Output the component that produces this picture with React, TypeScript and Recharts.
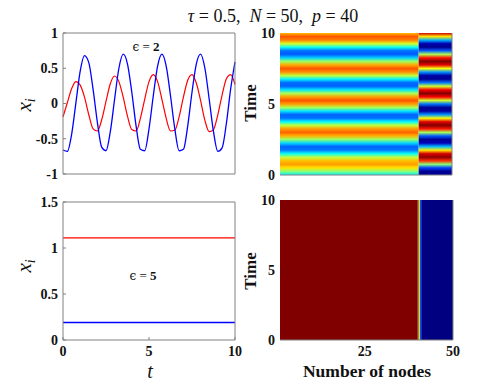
import React from 'react';
import {
  LineChart,
  Line,
  ComposedChart,
  Scatter,
  ReferenceArea,
  XAxis,
  YAxis,
} from 'recharts';

// time samples for the epsilon = 2 run
const times = [
  0, 0.25, 0.5, 0.75, 1, 1.25, 1.5, 1.75, 2, 2.25, 2.5, 2.75, 3, 3.25, 3.5, 3.75, 4, 4.25, 4.5, 4.75,
  5, 5.25, 5.5, 5.75, 6, 6.25, 6.5, 6.75, 7, 7.25, 7.5, 7.75, 8, 8.25, 8.5, 8.75, 9, 9.25, 9.5, 9.75, 10,
];
// node in the first block (nodes 1-40)
const eps2Red = [
  -0.19, 0.01, 0.21, 0.31, 0.26, 0.09, -0.16, -0.36, -0.39, -0.23, 0.03, 0.28, 0.39, 0.31, 0.09, -0.18,
  -0.37, -0.39, -0.21, 0.06, 0.31, 0.41, 0.31, 0.06, -0.21, -0.39, -0.38, -0.19, 0.09, 0.33, 0.41, 0.29,
  0.04, -0.24, -0.4, -0.37, -0.16, 0.12, 0.35, 0.41, 0.27,
];
// node in the second block (nodes 41-50)
const eps2Blue = [
  -0.66, -0.68, -0.44, 0.01, 0.46, 0.68, 0.58, 0.2, -0.27, -0.62, -0.67, -0.4, 0.06, 0.5, 0.7, 0.56,
  0.16, -0.32, -0.65, -0.67, -0.36, 0.11, 0.53, 0.7, 0.53, 0.11, -0.36, -0.67, -0.65, -0.32, 0.16, 0.56,
  0.7, 0.5, 0.06, -0.4, -0.68, -0.63, -0.28, 0.21, 0.59,
];

// epsilon = 5: both blocks sit at fixed points
const eps5Times = [0, 10];
const eps5Red = [1.11, 1.11];
const eps5Blue = [0.19, 0.19];

// node blocks
const blockFirst = [1, 41];
const blockLast = [40, 50];

const tTicks = [0, 5, 10];
const xTicksTop = [-1, -0.5, 0, 0.5, 1];
const xTicksBottom = [0, 0.5, 1, 1.5];
const timeTicks = [0, 5, 10];
const nodeTicks = [25, 50];

const eps2Rows = times.map((t, i) => ({ t, red: eps2Red[i], blue: eps2Blue[i] }));
const eps5Rows = eps5Times.map((t, i) => ({ t, red: eps5Red[i], blue: eps5Blue[i] }));
const nodeAnchors = [
  { node: blockFirst[0], time: 0 },
  { node: blockLast[1], time: 10 },
];

const SERIF = '"Liberation Serif", "DejaVu Serif", "Times New Roman", serif';
const GRAY = '#808080';
const tickStyle = { fill: '#111', fontSize: 14, fontWeight: 700, fontFamily: SERIF };

function jet(n: number) {
  const c = (v: number) => Math.round(255 * Math.max(0, Math.min(1, v)));
  return `rgb(${c(1.5 - Math.abs(4 * n - 3))},${c(1.5 - Math.abs(4 * n - 2))},${c(1.5 - Math.abs(4 * n - 1))})`;
}

function TimeGradient({ id, values, min, max }: { id: string; values: number[]; min: number; max: number }) {
  return (
    <linearGradient id={id} x1="0" y1="1" x2="0" y2="0">
      {times.map((t, i) => (
        <stop key={i} offset={t / 10} stopColor={jet((values[i] - min) / (max - min))} />
      ))}
    </linearGradient>
  );
}

const fmt = (v: number) => String(v);

function LinePanel({ rows, yDomain, yTicks, top, height, margin, showX, curve }: any) {
  return (
    <div style={{ position: 'absolute', left: 0, top }}>
      <LineChart width={245} height={height} data={rows} margin={margin}>
        <XAxis
          dataKey="t"
          type="number"
          domain={[0, 10]}
          ticks={tTicks}
          tick={showX ? tickStyle : false}
          tickFormatter={fmt}
          tickSize={-3}
          tickMargin={9}
          height={1}
          axisLine={{ stroke: GRAY }}
          tickLine={{ stroke: GRAY }}
        />
        <XAxis
          xAxisId="top"
          orientation="top"
          type="number"
          domain={[0, 10]}
          ticks={tTicks}
          tick={false}
          tickSize={-3}
          height={1}
          allowDataOverflow
          axisLine={{ stroke: GRAY }}
          tickLine={{ stroke: GRAY }}
        />
        <YAxis
          type="number"
          domain={yDomain}
          ticks={yTicks}
          tick={tickStyle}
          tickFormatter={fmt}
          tickSize={-3}
          tickMargin={8}
          width={1}
          axisLine={{ stroke: GRAY }}
          tickLine={{ stroke: GRAY }}
        />
        <YAxis
          yAxisId="right"
          orientation="right"
          type="number"
          domain={yDomain}
          ticks={yTicks}
          tick={false}
          tickSize={-3}
          width={1}
          allowDataOverflow
          axisLine={{ stroke: GRAY }}
          tickLine={{ stroke: GRAY }}
        />
        <Line dataKey="red" type={curve} stroke="#ff0000" strokeWidth={1.2} dot={false} isAnimationActive={false} />
        <Line dataKey="blue" type={curve} stroke="#0000ff" strokeWidth={1.3} dot={false} isAnimationActive={false} />
      </LineChart>
    </div>
  );
}

function HeatAxes({ showX }: { showX: boolean }) {
  return (
    <>
      <XAxis
        dataKey="node"
        type="number"
        domain={[1, 50]}
        ticks={nodeTicks}
        tick={showX ? tickStyle : false}
        tickSize={-3}
        tickMargin={9}
        height={1}
        axisLine={{ stroke: GRAY }}
        tickLine={false}
      />
      <YAxis
        dataKey="time"
        type="number"
        domain={[0, 10]}
        ticks={timeTicks}
        tick={tickStyle}
        tickSize={-3}
        tickMargin={8}
        width={1}
        axisLine={false}
        tickLine={false}
      />
      <YAxis
        yAxisId="right"
        orientation="right"
        type="number"
        domain={[0, 10]}
        ticks={timeTicks}
        tick={false}
        width={1}
        allowDataOverflow
        axisLine={{ stroke: GRAY }}
        tickLine={false}
      />
    </>
  );
}

function TopHeat() {
  const min = -0.7;
  const max = 0.7;
  return (
    <div style={{ position: 'absolute', left: 240, top: 0 }}>
      <ComposedChart width={251} height={200} margin={{ top: 33, right: 38, bottom: 24, left: 39 }}>
        <defs>
          <TimeGradient id="heatA" values={eps2Red} min={min} max={max} />
          <TimeGradient id="heatB" values={eps2Blue} min={min} max={max} />
        </defs>
        {HeatAxes({ showX: false })}
        <ReferenceArea x1={blockFirst[0]} x2={(blockLast[0] + blockFirst[1]) / 2} y1={0} y2={10} fill="url(#heatA)" fillOpacity={1} stroke="none" />
        <ReferenceArea x1={(blockLast[0] + blockFirst[1]) / 2} x2={blockLast[1]} y1={0} y2={10} fill="url(#heatB)" fillOpacity={1} stroke="none" />
        <Scatter data={nodeAnchors} fill="none" isAnimationActive={false} />
      </ComposedChart>
    </div>
  );
}

function BottomHeat() {
  const min = eps5Blue[0];
  const max = eps5Red[0];
  const edgeStops = [0, 0.125, 0.25, 0.375, 0.5, 0.625, 0.75, 0.875, 1];
  return (
    <div style={{ position: 'absolute', left: 240, top: 190 }}>
      <ComposedChart width={251} height={192} margin={{ top: 10, right: 37, bottom: 41, left: 39 }}>
        <defs>
          <linearGradient id="edge5" x1="0" y1="0" x2="1" y2="0">
            {edgeStops.map((s) => (
              <stop key={s} offset={s} stopColor={jet(1 - s)} />
            ))}
          </linearGradient>
        </defs>
        {HeatAxes({ showX: true })}
        <ReferenceArea x1={blockFirst[0]} x2={blockLast[0]} y1={0} y2={10} fill={jet((eps5Red[0] - min) / (max - min))} fillOpacity={1} stroke="none" />
        <ReferenceArea x1={blockLast[0]} x2={blockFirst[1]} y1={0} y2={10} fill="url(#edge5)" fillOpacity={1} stroke="none" />
        <ReferenceArea x1={blockFirst[1]} x2={blockLast[1]} y1={0} y2={10} fill={jet((eps5Blue[0] - min) / (max - min))} fillOpacity={1} stroke="none" />
        <Scatter data={nodeAnchors} fill="none" isAnimationActive={false} />
      </ComposedChart>
    </div>
  );
}

function XiLabel({ x, y }: { x: number; y: number }) {
  return (
    <text x={x} y={y} transform={`rotate(-90 ${x} ${y})`} textAnchor="middle" fontFamily={SERIF} fontStyle="italic" fontSize={21} fill="#111">
      x<tspan fontSize={14} dy={4}>i</tspan>
    </text>
  );
}

function EpsLabel({ x, y, value }: { x: number; y: number; value: string }) {
  return (
    <text x={x} y={y} textAnchor="middle" fontFamily={SERIF} fontSize={13} fill="#111" style={{ whiteSpace: 'pre' }}>
      <tspan fontFamily='"DejaVu Serif", serif' fontSize={12}>ϵ</tspan> = <tspan fontWeight={700}>{value}</tspan>
    </text>
  );
}

export default function App() {
  return (
    <div style={{ position: 'absolute', left: 0, top: 0, width: 491, height: 382, background: '#fff', overflow: 'hidden' }}>
      <LinePanel
        rows={eps2Rows}
        yDomain={[-1, 1]}
        yTicks={xTicksTop}
        top={0}
        height={200}
        margin={{ top: 32, right: 9, bottom: 25, left: 62 }}
        showX={false}
        curve="monotone"
      />
      <LinePanel
        rows={eps5Rows}
        yDomain={[0, 1.5]}
        yTicks={xTicksBottom}
        top={190}
        height={192}
        margin={{ top: 11, right: 9, bottom: 41, left: 62 }}
        showX
        curve="linear"
      />
      <TopHeat />
      <BottomHeat />
      <svg width={491} height={382} style={{ position: 'absolute', left: 0, top: 0, pointerEvents: 'none' }}>
        <text x={273} y={22} textAnchor="middle" fontFamily={SERIF} fontSize={18} fill="#111" style={{ whiteSpace: 'pre' }}>
          <tspan fontStyle="italic">τ</tspan> = 0.5,  <tspan fontStyle="italic">N</tspan> = 50,  <tspan fontStyle="italic">p</tspan> = 40
        </text>
        <EpsLabel x={146} y={51} value="2" />
        <EpsLabel x={143} y={280} value="5" />
        <XiLabel x={31} y={105} />
        <XiLabel x={31} y={266} />
        <text x={150} y={378} textAnchor="middle" fontFamily={SERIF} fontStyle="italic" fontSize={20} fill="#111">t</text>
        <text x={256} y={103} transform="rotate(-90 256 103)" textAnchor="middle" fontFamily={SERIF} fontWeight={700} fontSize={17} fill="#111">Time</text>
        <text x={256} y={271} transform="rotate(-90 256 271)" textAnchor="middle" fontFamily={SERIF} fontWeight={700} fontSize={17} fill="#111">Time</text>
        <text x={367} y={377} textAnchor="middle" fontFamily={SERIF} fontWeight={700} fontSize={17.5} fill="#111">Number of nodes</text>
      </svg>
    </div>
  );
}
